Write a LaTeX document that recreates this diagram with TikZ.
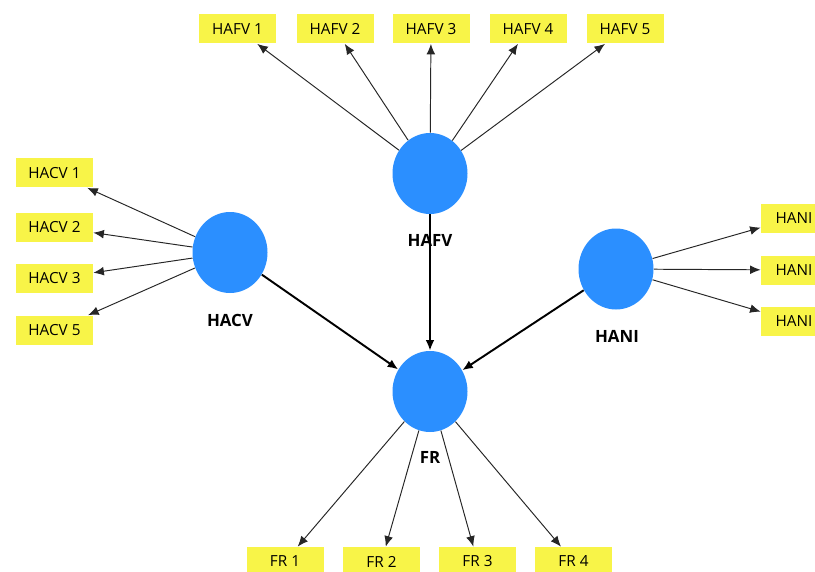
\documentclass[tikz,border=0pt]{standalone}
\usepackage{fontspec}
\setmainfont{Open Sans}
\usepackage{tikz}
\usetikzlibrary{shapes.geometric, arrows.meta}

\definecolor{latblue}{RGB}{43,143,255}
\definecolor{indyellow}{RGB}{248,244,72}

\begin{document}
\begin{tikzpicture}[>={Latex[length=6pt,width=5pt]}]
		\tikzstyle{latent} = [ellipse, minimum width = 15mm, minimum height = 16.2mm, inner sep = 0pt, fill = latblue]
		\tikzstyle{ind} = [rectangle, minimum width = 15.4mm, minimum height = 5.8mm, inner sep = 1pt, fill = indyellow, font = \fontsize{8.7}{10}\selectfont]
		\tikzstyle{lab} = [font = \fontsize{9.6}{11}\selectfont\bfseries]
		\tikzstyle{thin} = [->, line width = 0.55pt, draw = black!85]
		\tikzstyle{thick} = [->, line width = 1.1pt]
		\clip (0, 0) rectangle (16.3, 11.42);
		
		\node[latent] at (8.6, 7.95) (hafv) {};
		\node[latent] at (4.6, 6.37) (hacv) {};
		\node[latent] at (12.32, 6.04) (hani) {};
		\node[latent] at (8.6, 3.59) (fr) {};
		
		\node[ind] at (4.75, 10.84) (hafv1) {HAFV 1};
		\node[ind] at (6.7, 10.84) (hafv2) {HAFV 2};
		\node[ind] at (8.62, 10.84) (hafv3) {HAFV 3};
		\node[ind] at (10.56, 10.84) (hafv4) {HAFV 4};
		\node[ind] at (12.5, 10.84) (hafv5) {HAFV 5};
		
		\node[ind] at (1.09, 7.96) (hacv1) {HACV 1};
		\node[ind] at (1.09, 6.88) (hacv2) {HACV 2};
		\node[ind] at (1.09, 5.85) (hacv3) {HACV 3};
		\node[ind] at (1.09, 4.82) (hacv5) {HACV 5};
		
		\node[ind, minimum width = 13.2mm] at (15.88, 7.06) (hani1) {HANI};
		\node[ind, minimum width = 13.2mm] at (15.88, 6.02) (hani2) {HANI};
		\node[ind, minimum width = 13.2mm] at (15.88, 4.99) (hani3) {HANI};
		
		\node[ind] at (5.7, 0.19) (fr1) {FR 1};
		\node[ind] at (7.63, 0.19) (fr2) {FR 2};
		\node[ind] at (9.55, 0.19) (fr3) {FR 3};
		\node[ind] at (11.47, 0.19) (fr4) {FR 4};
		
		\draw[thin] (hafv) -- (hafv1);
		\draw[thin] (hafv) -- (hafv2);
		\draw[thin] (hafv) -- (hafv3);
		\draw[thin] (hafv) -- (hafv4);
		\draw[thin] (hafv) -- (hafv5);
		
		\draw[thin] (hacv) -- (hacv1);
		\draw[thin] (hacv) -- (hacv2);
		\draw[thin] (hacv) -- (hacv3);
		\draw[thin] (hacv) -- (hacv5);
		
		\draw[thin] (hani) -- (hani1);
		\draw[thin] (hani) -- (hani2);
		\draw[thin] (hani) -- (hani3);
		
		\draw[thin] (fr) -- (fr1);
		\draw[thin] (fr) -- (fr2);
		\draw[thin] (fr) -- (fr3);
		\draw[thin] (fr) -- (fr4);
		
		\draw[thick] (hacv) -- (fr);
		\draw[thick] (hafv) -- (fr);
		\draw[thick] (hani) -- (fr);
		
		\node[lab] at (8.6, 6.62) (hafvlab) {HAFV};
		\node[lab] at (4.6, 5.02) (hacvlab) {HACV};
		\node[lab] at (12.34, 4.7) (hanilab) {HANI};
		\node[lab] at (8.6, 2.28) (frlab) {FR};
		\end{tikzpicture}
\end{document}
